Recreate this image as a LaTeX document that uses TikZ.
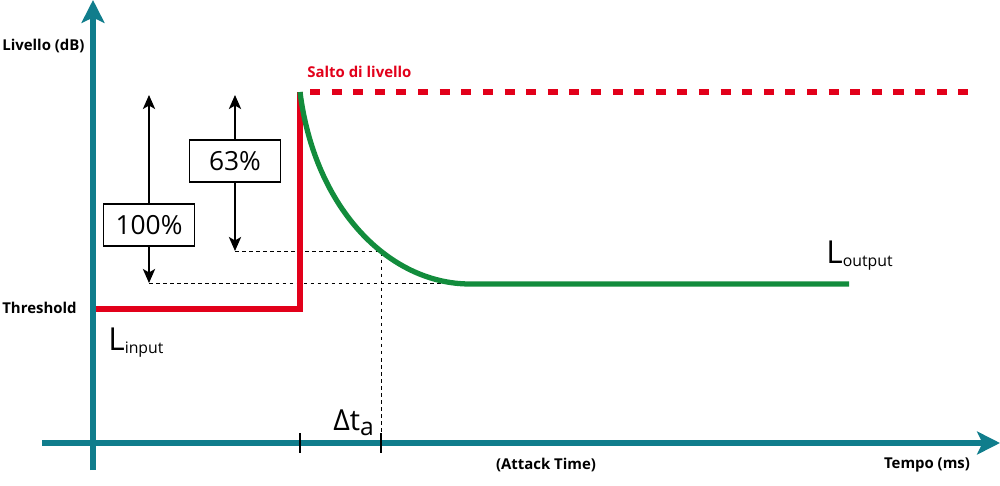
\documentclass[tikz,border=0pt]{standalone}
\usepackage{fontspec}
\setmainfont{Open Sans}
\usetikzlibrary{arrows.meta}
\definecolor{coloreasse}{RGB}{16,125,140}
\definecolor{rosso}{RGB}{226,0,26}
\definecolor{verde}{RGB}{18,140,60}
\newcommand{\livsub}[2]{#1{\fontsize{9}{10}\selectfont\raisebox{-2pt}{#2}}}
\tikzset{
  asse/.style={coloreasse, line width=3.4pt, -{Stealth[length=13pt,width=13pt,inset=3pt]}},
  etichetta/.style={font=\bfseries\fontsize{8.5}{10}\selectfont, inner sep=0pt},
  guida/.style={black, line width=0.5pt, dash pattern=on 2pt off 2pt},
  freccia/.style={black, line width=0.9pt, {Stealth[length=8pt,width=7pt,inset=2pt]}-{Stealth[length=8pt,width=7pt,inset=2pt]}},
  riquadro/.style={draw, line width=0.9pt, fill=white, minimum width=52pt, minimum height=24pt, inner sep=0pt, font=\fontsize{15}{18}\selectfont},
  livtesto/.style={font=\fontsize{18}{20}\selectfont, anchor=base west, inner sep=0pt}
}
\begin{document}
\begin{tikzpicture}[x=0.02cm, y=-0.02cm]
        \useasboundingbox (0,0) rectangle (1000,486);
        % assi
        \draw[asse] (93,470) -- (93,0);
        \draw[asse] (42,443) -- (1000,443);
        \node[etichetta, anchor=west] (livello) at (2,46) {Livello (dB)};
        \node[etichetta, anchor=west] (soglia) at (2,308) {Threshold};
        \node[etichetta] (tempo) at (927,465) {Tempo (ms)};
        \node[etichetta] (attacco) at (546,465) {(Attack Time)};
        % tacche
        \draw[line width=0.9pt] (300,433) -- (300,453);
        \draw[line width=0.9pt] (381,433) -- (381,453);
        % linee guida
        \draw[guida] (149,283) -- (445,283);
        \draw[guida] (235,251) -- (381,251) -- (381,443);
        % segnale in ingresso
        \draw[rosso, line width=3.2pt] (96,309) -- (300,309) -- (300,92);
        \draw[rosso, line width=3pt, dash pattern=on 5.7pt off 6.6pt] (310,92) -- (970,92);
        \node[rosso, etichetta, anchor=west] (salto) at (307,72) {Salto di livello};
        % segnale in uscita
        \draw[verde, line width=3pt] (300,92) .. controls (315,210) and (390,284) .. (470,284) -- (849,284);
        % frecce percentuali
        \draw[freccia] (149,95) -- (149,283);
        \node[riquadro] (cento) at (149,225) {100\%};
        \draw[freccia] (235,95) -- (235,251);
        \node[riquadro] (sessantatre) at (235,161) {63\%};
        % livelli
        \node[livtesto] (lout) at (826,263) {\livsub{L}{output}};
        \node[livtesto] (lin) at (108,350) {\livsub{L}{input}};
        \node[livtesto, font=\fontsize{16.5}{18}\selectfont] (dt) at (333,430) {Δt{\fontsize{14}{16}\selectfont\raisebox{-3pt}{a}}};
\end{tikzpicture}
\end{document}
